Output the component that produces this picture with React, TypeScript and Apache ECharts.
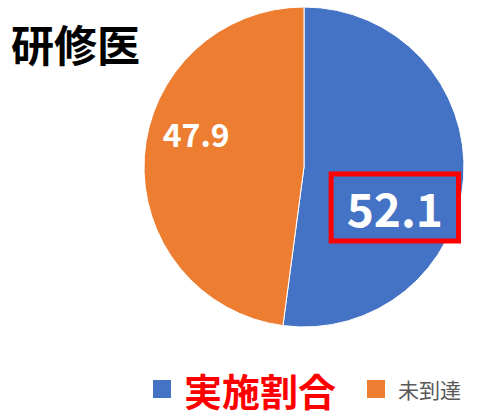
import React, { useEffect, useRef } from "react";
import * as echarts from "echarts";

const titleText = "研修医";
const categories = ["実施割合", "未到達"];
const values = [52.1, 47.9];
const colors = ["#4472C4", "#ED7D31"];

export default function App() {
  const ref = useRef<HTMLDivElement>(null);
  useEffect(() => {
    if (!ref.current) return;
    const chart = echarts.init(ref.current, undefined, { renderer: "svg" });
    const font = "'Noto Sans CJK JP', 'Noto Sans', sans-serif";
    chart.setOption({
      animation: false,
      title: {
        text: titleText,
        left: 6,
        top: 16,
        textStyle: { fontFamily: font, fontSize: 43, fontWeight: "bold", color: "#000" },
      },
      legend: {
        left: 146,
        top: 364,
        icon: "rect",
        itemWidth: 20,
        itemHeight: 20,
        itemGap: 29,
        data: [
          {
            name: categories[0],
            textStyle: { color: "#FF0000", fontSize: 38, lineHeight: 40, fontWeight: "bold", fontFamily: font, padding: [0, 0, 0, 7] },
          },
          {
            name: categories[1],
            textStyle: { color: "#595959", fontSize: 21, fontFamily: font, padding: [0, 0, 0, 7] },
          },
        ],
      },
      series: [
        {
          type: "pie",
          center: [304, 167],
          radius: [0, 160],
          startAngle: 90,
          clockwise: true,
          itemStyle: { borderColor: "#fff", borderWidth: 1 },
          labelLine: { show: false },
          label: {
            show: true,
            position: "inside",
            formatter: (p: any) => p.value.toFixed(1),
            color: "#fff",
            fontFamily: font,
            fontWeight: "bold",
          },
          labelLayout: (p: any) => (p.dataIndex === 0 ? { dx: 8, dy: 35 } : { dx: -25, dy: -29 }),
          data: categories.map((c, i) => ({
            name: c,
            value: values[i],
            itemStyle: { color: colors[i] },
            label:
              i === 0
                ? {
                    fontSize: 46,
                    backgroundColor: colors[0],
                    borderColor: "#FF0000",
                    borderWidth: 5,
                    padding: [9, 13, 7, 13],
                  }
                : { fontSize: 32 },
          })),
        },
      ],
    });
    return () => chart.dispose();
  }, []);
  return <div ref={ref} style={{ position: "absolute", left: 0, top: 0, width: 482, height: 418 }} />;
}
